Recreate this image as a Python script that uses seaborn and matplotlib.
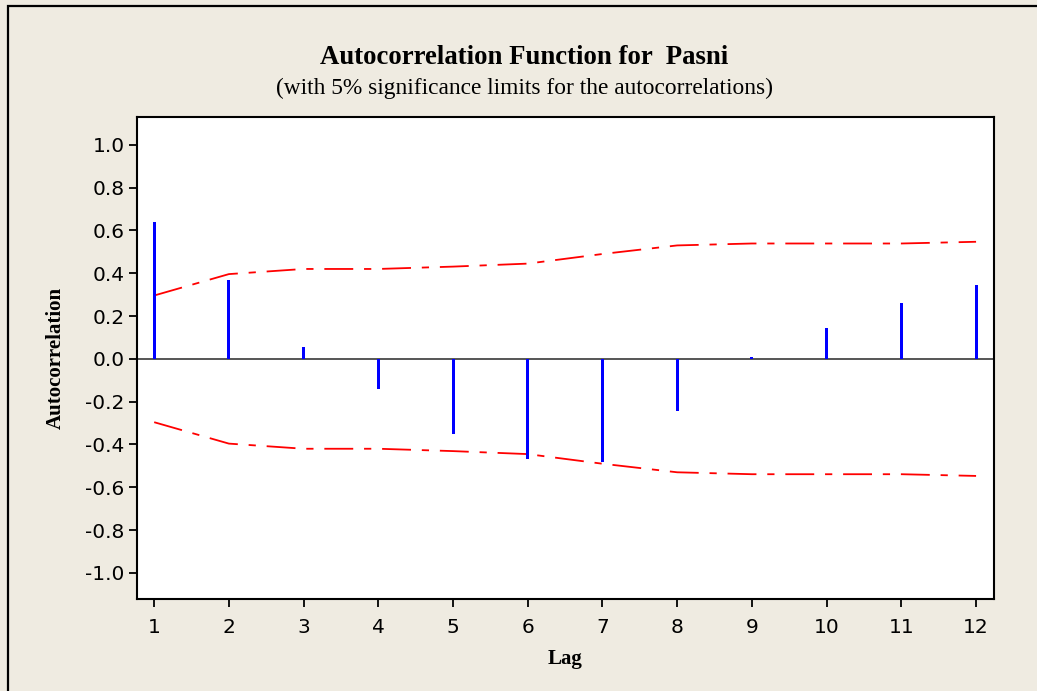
import matplotlib
matplotlib.use("Agg")
import matplotlib.pyplot as plt
from matplotlib.patches import Rectangle
import seaborn as sns
import pandas as pd

lags = [1, 2, 3, 4, 5, 6, 7, 8, 9, 10, 11, 12]
acf = [0.640, 0.369, 0.057, -0.142, -0.350, -0.467, -0.480, -0.243, 0.008, 0.143, 0.260, 0.344]
upper_limit = [0.296, 0.396, 0.420, 0.420, 0.431, 0.445, 0.490, 0.530, 0.539, 0.539, 0.539, 0.547]
y_ticks = [-1.0, -0.8, -0.6, -0.4, -0.2, 0.0, 0.2, 0.4, 0.6, 0.8, 1.0]

sns.set_style("ticks")
plt.rcParams['font.family'] = ['DejaVu Sans']
plt.rcParams['text.color'] = 'black'
plt.rcParams['axes.labelcolor'] = 'black'

bg = "#EFEBE1"
fig = plt.figure(figsize=(10.37, 6.91), dpi=100, facecolor=bg)
ax = fig.add_axes([137/1037, 1 - 599/691, (994-137)/1037, (599-117)/691])
ax.set_facecolor("white")

df = pd.DataFrame({"Lag": lags, "ACF": acf,
                   "upper": upper_limit,
                   "lower": [-v for v in upper_limit]})

# zero reference line
ax.axhline(0, color="#555555", lw=1.4, zorder=1)

sns.barplot(data=df, x="Lag", y="ACF", native_scale=True, width=0.04,
            color="#0000FF", saturation=1, edgecolor="none", ax=ax, zorder=3)

for col in ["upper", "lower"]:
    sns.lineplot(data=df, x="Lag", y=col, color="#FF0000", lw=1.3, ax=ax, zorder=2)
for line in ax.get_lines()[1:]:
    line.set_linestyle((0, (16, 6, 4, 6)))

ax.set_xlim(0.77, 12.24)
ax.set_ylim(-1.122, 1.13)
ax.set_xticks(lags)
ax.set_xticklabels([str(l) for l in lags])
ax.set_yticks(y_ticks)
ax.set_yticklabels([f"{v:.1f}" for v in y_ticks])
ax.tick_params(axis="both", direction="out", length=6, width=1.3, colors="black",
               labelsize=14.5)
ax.tick_params(axis="x", pad=8)
ax.tick_params(axis="y", pad=3)

for s in ax.spines.values():
    s.set_visible(True)
    s.set_color("black")
    s.set_linewidth(1.5)

ax.set_xlabel("Lag", family="Liberation Serif", fontweight="bold", fontsize=15, labelpad=8,
              color="black")
ax.set_ylabel("Autocorrelation", family="Liberation Serif", fontweight="bold", fontsize=15,
              labelpad=14, color="black")

fig.text(524/1037, 1 - 57/691, "Autocorrelation Function for  Pasni", ha="center", va="center",
         family="Liberation Serif", fontweight="bold", fontsize=19.3, color="black")
fig.text(524/1037, 1 - 88/691, "(with 5% significance limits for the autocorrelations)", ha="center",
         va="center", family="Liberation Serif", fontsize=16.8, color="black")

# outer frame
fig.patches.append(Rectangle((8/1037, -0.05), 1.2, 1 - 6/691 + 0.05, transform=fig.transFigure,
                             fill=False, edgecolor="black", lw=1.6))

fig.savefig("out.png", dpi=100, facecolor=bg)
